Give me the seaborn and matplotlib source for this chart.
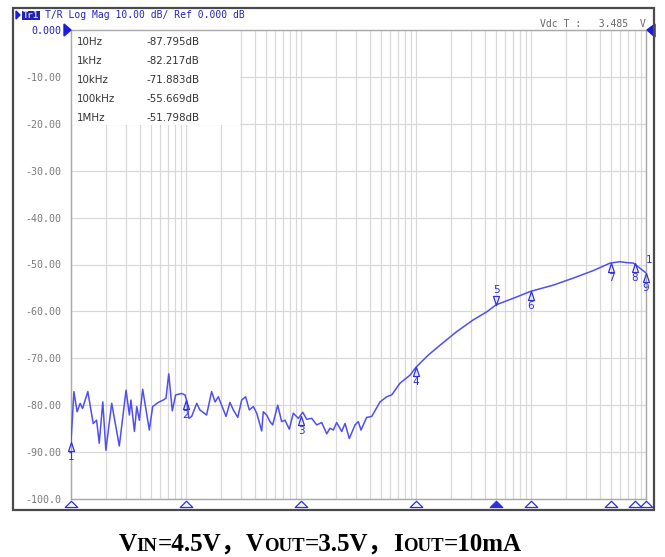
import numpy as np
import pandas as pd
import seaborn as sns
import matplotlib.pyplot as plt
from matplotlib.patches import Rectangle, Polygon
from matplotlib.path import Path
from matplotlib.ticker import LogLocator, NullFormatter
from matplotlib.transforms import offset_copy

# trace (Hz, dB)
freq_hz = [10, 10.6, 11.3, 12.0, 12.6, 14.0, 15.6, 16.7, 17.6, 18.9,
           20.1, 22.6, 26.3, 30.1, 32.2, 33.2, 35.6, 37.3, 39.3, 42.0,
           48.0, 51.3, 57.4, 63.5, 67.0, 70.8, 76.0, 81.3, 91.8, 98,
           101, 106, 112, 124, 132, 151, 167, 179, 191, 204,
           223, 241, 258, 282, 305, 330, 355, 385, 412, 455,
           470, 503, 537, 567, 627, 679, 726, 791, 857, 948,
           1035, 1122, 1240, 1370, 1515, 1673, 1787, 1910, 2042, 2260,
           2415, 2631, 2950, 3150, 3325, 3725, 4120, 4865, 5560, 6150,
           7265, 8870, 10000, 12800, 16200, 22600, 31500, 41200, 49700, 70200,
           100000, 156000, 233000, 348000, 487000, 594000, 679000, 776000, 887000, 1000000]
mag_db = [-87.8, -77.1, -81.4, -79.6, -80.7, -77.1, -83.9, -83.2, -88.1, -79.3,
          -89.6, -79.6, -88.7, -76.8, -82.1, -78.9, -85.6, -80.3, -83.2, -76.6,
          -85.3, -80.3, -79.4, -78.9, -78.5, -73.3, -81.2, -77.8, -77.5, -77.8,
          -78.9, -82.8, -82.4, -79.6, -81.0, -82.1, -77.1, -79.3, -78.2, -80.0,
          -82.4, -79.4, -81.0, -82.6, -78.9, -78.2, -81.0, -80.3, -81.7, -85.5,
          -81.4, -82.1, -83.5, -84.2, -80.0, -83.5, -83.2, -85.1, -81.7, -82.8,
          -81.5, -83.0, -82.8, -84.2, -83.7, -86.1, -84.9, -85.3, -83.7, -85.6,
          -83.9, -87.1, -84.2, -83.5, -85.3, -82.6, -82.4, -79.3, -78.2, -77.8,
          -75.3, -73.6, -71.9, -69.3, -67.2, -64.3, -61.8, -60.1, -58.6, -57.2,
          -55.7, -54.4, -52.9, -51.3, -49.7, -49.4, -49.6, -49.7, -50.8, -51.8]

marker_ids = ['1', '2', '3', '4', '5', '6', '7', '8', '9']
marker_freq = [10, 100, 1e3, 1e4, 5e4, 1e5, 5e5, 8e5, 1e6]
marker_db = [-87.8, -78.9, -82.2, -71.9, -58.6, -55.7, -49.7, -49.7, -51.8]
active_marker = '5'

readout_freq = ['10Hz', '1kHz', '10kHz', '100kHz', '1MHz']
readout_db = ['-87.795dB', '-82.217dB', '-71.883dB', '-55.669dB', '-51.798dB']

ytick_vals = [0, -10, -20, -30, -40, -50, -60, -70, -80, -90, -100]
ytick_labels = ['0.000', '-10.00', '-20.00', '-30.00', '-40.00', '-50.00',
                '-60.00', '-70.00', '-80.00', '-90.00', '-100.0']

header = 'T/R Log Mag 10.00 dB/ Ref 0.000 dB'
status = 'Vdc T :   3.485  V'

TRACE = '#4f4ff2'
MARK = '#2f2fe0'
GRID = '#d8d8d8'
LABEL = '#7a7a7a'
MONO = 'DejaVu Sans Mono'

sns.set_style('white')
plt.rcParams['font.family'] = ['DejaVu Sans', 'Noto Sans CJK SC']

W, H = 665, 557
fig = plt.figure(figsize=(W / 100, H / 100), dpi=100)
ax = fig.add_axes([71 / W, 1 - 499 / H, (646 - 71) / W, (499 - 30) / H])

df = pd.DataFrame({'freq': freq_hz, 'mag': mag_db})
ax.set_xscale('log')
sns.lineplot(data=df, x='freq', y='mag', ax=ax, color=TRACE, lw=1.1,
             sort=False, estimator=None, zorder=4)

ax.set_xlim(10, 1e6)
ax.set_ylim(-100, 0)
ax.set_xlabel('')
ax.set_ylabel('')

ax.xaxis.set_major_locator(LogLocator(base=10))
ax.xaxis.set_minor_locator(LogLocator(base=10, subs=np.arange(2, 10)))
ax.xaxis.set_major_formatter(NullFormatter())
ax.xaxis.set_minor_formatter(NullFormatter())
ax.set_yticks(ytick_vals)
ax.set_yticklabels(ytick_labels, fontfamily=MONO, fontsize=7.2, color=LABEL)
ax.get_yticklabels()[0].set_color('#2020d0')
ax.tick_params(axis='both', which='both', length=0)
ax.tick_params(axis='y', pad=7)
ax.grid(True, which='both', axis='x', color=GRID, lw=0.9)
ax.grid(True, which='major', axis='y', color=GRID, lw=0.9)
ax.set_axisbelow(True)
for sp in ax.spines.values():
    sp.set_color('#a8a8a8')
    sp.set_linewidth(1.0)

# marker readout table in the upper left corner
ax.add_patch(Rectangle((0, 0.797), 0.294, 0.203, transform=ax.transAxes,
                       facecolor='white', edgecolor='none', zorder=2.5))
for i, (f, v) in enumerate(zip(readout_freq, readout_db)):
    yy = 0.974 - i * 0.0405
    ax.text(0.0105, yy, f, transform=ax.transAxes, fontsize=7.4, color='#333333',
            va='center', ha='left', zorder=3)
    ax.text(0.132, yy, v, transform=ax.transAxes, fontsize=7.4, color='#333333',
            va='center', ha='left', zorder=3)

# markers on the trace: narrow triangles with the tip on the trace
up_tri = Path([(0, 0), (-0.33, -1), (0.33, -1), (0, 0)],
              [Path.MOVETO, Path.LINETO, Path.LINETO, Path.CLOSEPOLY])
down_tri = Path([(0, 0), (-0.33, 1), (0.33, 1), (0, 0)],
                [Path.MOVETO, Path.LINETO, Path.LINETO, Path.CLOSEPOLY])
for mid, f, v in zip(marker_ids, marker_freq, marker_db):
    if mid == active_marker:
        ax.plot([f], [v], marker=down_tri, ms=13, mfc='none', mec=MARK,
                mew=0.9, ls='none', zorder=5, clip_on=False)
        ax.annotate(mid, (f, v), xytext=(0, 10), textcoords='offset pixels',
                    ha='center', va='bottom', fontsize=7.5, color=MARK,
                    annotation_clip=False)
    else:
        ax.plot([f], [v], marker=up_tri, ms=13, mfc='none', mec=MARK,
                mew=0.9, ls='none', zorder=5, clip_on=False)
        ax.annotate(mid, (f, v), xytext=(0, -10), textcoords='offset pixels',
                    ha='center', va='top', fontsize=7.5, color=MARK,
                    annotation_clip=False)
ax.annotate('1', (1e6, -51.8), xytext=(3, 8), textcoords='offset pixels',
            ha='center', va='bottom', fontsize=7.5, color=MARK, annotation_clip=False)

# marker position flags under the x axis
flag = Path([(-1, 0), (1, 0), (0, 1), (-1, 0)],
            [Path.MOVETO, Path.LINETO, Path.LINETO, Path.CLOSEPOLY])
below = offset_copy(ax.transData, fig=fig, x=0, y=-8, units='dots')
for mid, f in zip(marker_ids, marker_freq):
    fc = MARK if mid == active_marker else 'none'
    ax.plot([f], [-100], marker=flag, ms=9, mfc=fc, mec=MARK, mew=0.9,
            ls='none', transform=below, clip_on=False, zorder=6)

# reference level arrows at 0 dB
fig.add_artist(Polygon([[64 / W, 1 - 24 / H], [71 / W, 1 - 30 / H], [64 / W, 1 - 36 / H]],
                       closed=True, transform=fig.transFigure, color='#1a1ae0'))
fig.add_artist(Polygon([[655 / W, 1 - 24 / H], [647 / W, 1 - 30 / H], [655 / W, 1 - 37 / H]],
                       closed=True, transform=fig.transFigure, color='#1a1ae0'))

# screen header
fig.add_artist(Polygon([[16 / W, 1 - 11 / H], [20 / W, 1 - 15 / H], [16 / W, 1 - 19 / H]],
                       closed=True, transform=fig.transFigure, color='#1a1ae0'))
fig.add_artist(Rectangle((22 / W, 1 - 20 / H), 18 / W, 9 / H, transform=fig.transFigure,
                         facecolor='#2222b0', edgecolor='none'))
fig.text(31 / W, 1 - 15.5 / H, 'Tr1', fontsize=6.5, family=MONO, color='#c8d0ff',
         ha='center', va='center', fontweight='bold')
fig.text(45 / W, 1 - 15.5 / H, header, fontsize=7, family=MONO, color='#2424c8',
         ha='left', va='center')
fig.text(646 / W, 1 - 24 / H, status, fontsize=7, family=MONO, color='#666666',
         ha='right', va='center')

# screen frame
fig.add_artist(Rectangle((13 / W, 1 - 510 / H), (654 - 13) / W, (510 - 8) / H,
                         transform=fig.transFigure, fill=False,
                         edgecolor='#4a4a4a', lw=1.6))

# caption with small-caps style subscripts
caption = [('V', 18), ('IN', 13.5), ('=4.5V，', 18), ('V', 18), ('OUT', 13.5),
           ('=3.5V，', 18), ('I', 18), ('OUT', 13.5), ('=10mA', 18)]
serif = ['Liberation Serif', 'Noto Sans CJK SC']
renderer = fig.canvas.get_renderer()
parts = []
total = 0
for s, size in caption:
    t = fig.text(0, 0, s, fontsize=size, fontweight='bold', family=serif,
                 ha='left', va='baseline', color='black')
    w = t.get_window_extent(renderer).width
    parts.append((t, w))
    total += w
x0 = 320 - total / 2
for t, w in parts:
    t.set_position((x0 / W, 1 - 551 / H))
    x0 += w

fig.savefig('out.png', dpi=100, facecolor='white')
